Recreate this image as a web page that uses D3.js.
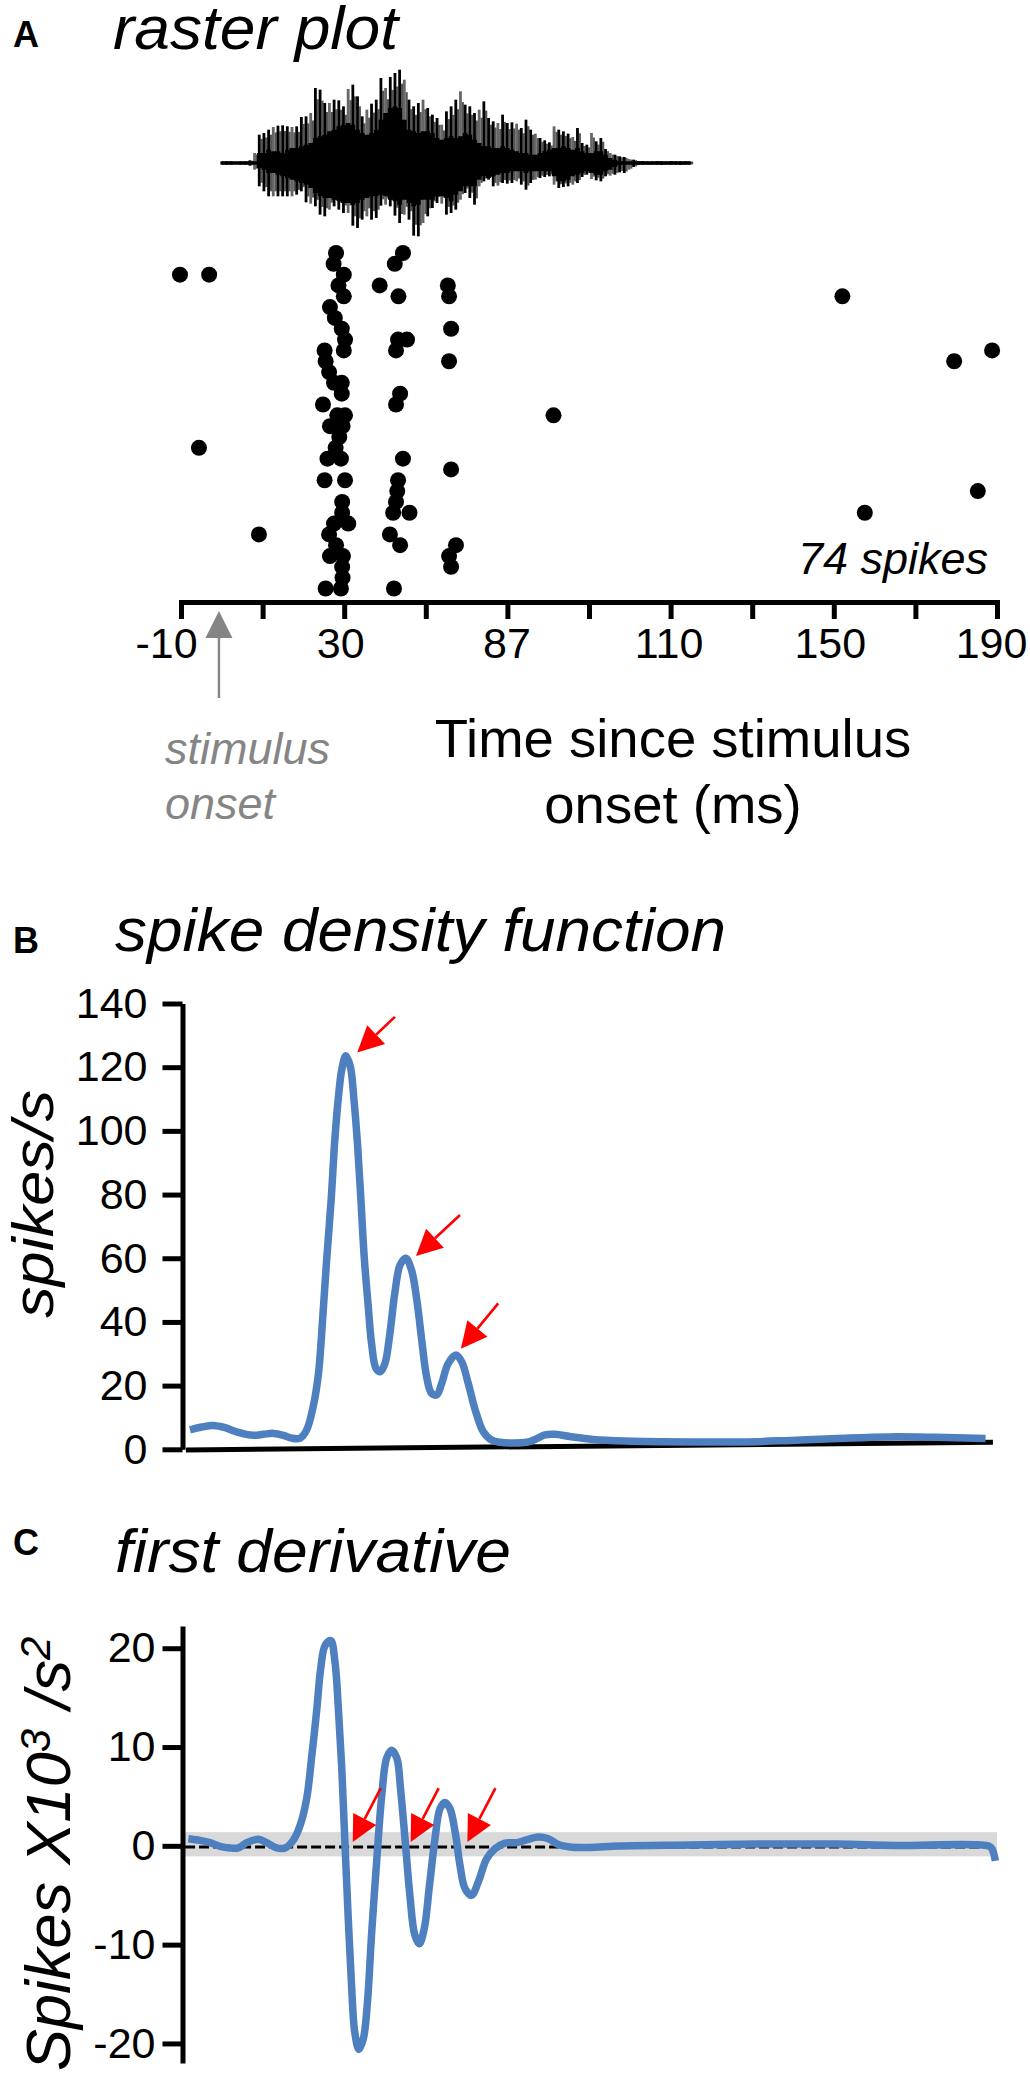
<!DOCTYPE html>
<html>
<head>
<meta charset="utf-8">
<title>raster plot</title>
<script src="https://d3js.org/d3.v7.min.js"></script>
<style>
	html, body { margin: 0; padding: 0; background: #fff; }
	svg { display: block; }
	text { font-family: "Liberation Sans", Arial, sans-serif; fill: #000; }
	.title { font-size: 62px; font-style: italic; }
	.letter { font-size: 36px; font-weight: bold; }
	.tick-label { font-size: 43px; }
</style>
</head>
<body>
<svg id="chart" width="1030" height="2076"></svg>
<script>
// x axis positions are every 20 ms, the printed labels are what the figure shows
const TICK_TIMES = [-10, 10, 30, 50, 70, 90, 110, 130, 150, 170, 190];
const TICK_LABELS = ['-10', '', '30', '', '87', '', '110', '', '150', '', '190'];

// one list of spike times (ms) per trial, top row first
const SPIKE_TRIALS = [
	[28.0, 44.4],
	[27.4, 42.4],
	[-10.25, -3.1, 29.9],
	[28.6, 38.7, 55.4],
	[29.9, 43.3, 55.7, 152.1],
	[26.5],
	[27.7],
	[29.4, 56.2],
	[30.2, 43.2, 45.4],
	[25.2, 29.9, 42.7, 188.8],
	[25.45, 55.7, 179.5],
	[26.3],
	[27.5, 29.4],
	[29.4, 43.7],
	[24.8, 42.7],
	[28.3, 30.2, 81.3],
	[26.5, 29.6],
	[28.8],
	[27.9, -5.6],
	[25.9, 29.2, 44.4],
	[56.2],
	[25.2, 30.2, 43.2],
	[43, 185.3],
	[29.5, 42.7],
	[29.5, 42, 46, 157.6],
	[27.5, 31],
	[9.1, 26.3, 41.2],
	[28, 43.7, 57.4],
	[26.5, 29.7, 55.7],
	[29.5, 56.2],
	[29.6],
	[25.45, 29.2, 42.2]
];

// sound waveform, read stroke by stroke: outer peaks and the solid dark core
const WAVE_UP = [5,5,5,4,5,5,8,30,85,90,100,108,112,113,110,108,110,138,140,150,225,220,180,180,190,188,170,222,235,200,140,160,178,190,255,225,258,270,280,250,190,170,180,190,165,145,135,115,155,170,190,215,175,170,150,160,185,135,125,120,145,120,122,118,105,130,100,88,75,68,62,110,100,95,88,78,105,60,55,90,65,75,42,30,25,20,18,12,10,6,6,5,5,6,5,5,6,5,5,6,5];
const WAVE_DOWN = [5,5,5,4,5,5,8,20,70,85,100,100,100,100,100,100,95,85,118,122,130,155,160,140,130,140,150,150,188,195,170,160,170,165,128,125,130,158,180,155,170,218,220,180,160,135,120,122,155,150,140,110,90,105,125,70,55,50,70,68,60,62,60,55,65,80,60,50,45,42,40,65,75,72,70,65,60,42,35,48,52,55,40,38,35,28,30,20,12,6,5,6,5,5,6,5,5,5,6,5,5];
const CORE_UP = [5,5,5,5,5,5,5,5,30,30,40,35,35,30,40,45,45,50,55,60,75,80,85,95,100,110,115,120,115,100,90,85,90,100,130,150,165,170,165,130,100,95,90,95,95,90,75,70,75,80,75,80,90,85,70,60,50,50,45,45,50,45,40,35,30,30,25,25,30,35,40,45,45,50,45,40,45,35,30,30,35,35,25,15,10,5,5,5,5,5,5,5,5,5,5,5,5,5,5,5,5];
const CORE_DOWN = [5,5,5,5,5,5,5,5,15,20,30,30,35,40,45,50,55,60,65,75,90,100,105,105,110,115,120,120,125,120,110,105,100,100,95,100,110,115,125,110,120,130,125,110,110,110,100,100,105,115,95,85,70,70,70,50,40,45,40,35,30,30,25,25,25,30,25,25,25,25,25,40,55,55,50,40,35,30,25,30,35,35,25,20,12,6,5,5,5,5,5,5,5,5,5,5,5,5,5,5,5];

// panel B
const DENSITY_TIMES = [-7.8,-4.9,-2.1,0.8,3.6,7.7,10.2,12.6,15.1,17.1,19.2,20.8,22.4,23.7,24.7,25.7,26.8,27.7,28.6,29.4,30.4,31.5,32.4,33.3,34.1,34.9,35.9,36.7,37.8,38.9,40,41.2,42.4,43.7,45.1,46.5,47.8,49,50.2,51.4,52.7,53.9,55.5,57.4,58.8,60.4,62.1,64.1,66.1,68.2,74.7,76.8,79.2,81.7,85.3,91,99,115,128,139.5,151,163.7,175,187.2];
const DENSITY_VALUES = [6.1,7,7.5,6.8,5.5,4.4,4.7,5,4.4,3.5,3.5,6.1,13.4,23.9,40.6,59.5,78.3,97.2,110.8,119.2,123.6,120.2,109.7,95.1,78.3,60.5,44.8,33.3,25.4,24.4,27,36.4,49,57.9,60,56.3,46.9,34.3,22.8,17.6,17.1,20.7,27,29.6,27.5,20.7,12.4,5.5,2.9,2.2,2.2,3.1,4.5,4.7,4,3.1,2.6,2.3,2.3,2.8,3.4,3.9,3.75,3.4];
const DENSITY_TICKS = [0, 20, 40, 60, 80, 100, 120, 140];
const DENSITY_ARROW_TIMES = [33.2, 47.6, 58.6];
const DENSITY_ARROW_VALUES = [124.6, 60.7, 31.6];

// panel C
const DERIV_TIMES = [-8.2,-5.35,-2.9,-0.45,2,4.05,6.1,8.95,11,13.45,15.5,17.5,19.2,20.8,22,23.25,24.25,25.3,26.7,27.75,28.6,29.4,30.2,31,31.8,32.6,33.6,34.7,35.7,36.7,38,39.2,40.4,41.6,42.9,43.8,44.9,46.1,47.3,48.4,49.6,50.9,52.25,53.5,54.7,55.9,57.2,58.4,59.6,61.2,62.9,64.9,67,69.4,72.3,75.1,77.6,80,82.5,85.3,90,97.5,115,131.4,150.8,165,188,188.8,189.6];
const DERIV_VALUES = [0.74,0.57,0.34,-0.03,-0.2,-0.2,0.34,0.68,0.34,-0.2,-0.2,0.57,2.1,4.8,8.9,13.7,18,20.3,20.8,18.6,13.7,7.9,0.07,-7.4,-14.1,-18.9,-20.6,-19.5,-15.8,-9,-1.3,5.1,8.9,9.7,8.9,5.8,0.74,-5,-9,-9.9,-8.4,-4,0.74,3.8,4.4,3.8,1.4,-2,-4.3,-5,-3.6,-1.3,-0.27,0.3,0.34,0.68,0.9,0.74,0.14,-0.1,-0.15,0,0.1,0.19,0.19,0.05,0,-0.3,-1.5];
const DERIV_TICKS = [-20, -10, 0, 10, 20];
const DERIV_ARROW_TIMES = [32.1, 46.3, 60.2];
const DERIV_BAND = [-1.05, 1.4];
const DERIV_ZERO = -0.1;

const BLUE = '#4e7fbe';
const RED = '#ff0000';
const GREY = '#858585';

const svg = d3.select('#chart');

// same time scale under all three panels
const x = d3.scaleLinear().domain([-10, 190]).range([181, 997]);

function addText(str, px, py, cls) {
	return svg.append('text').attr('x', px).attr('y', py).attr('class', cls).text(str);
}

function addTitle(str, px, py, len) {
	return addText(str, px, py, 'title')
		.attr('textLength', len)
		.attr('lengthAdjust', 'spacingAndGlyphs');
}

// red arrow given the tip and the tail offset, in pixels
function redArrow(tipX, tipY, dx, dy) {
	const len = Math.hypot(dx, dy);
	const ux = dx / len, uy = dy / len;
	const headLen = 26, headHalf = 13;
	const bx = tipX + ux * headLen, by = tipY + uy * headLen;
	svg.append('line')
		.attr('x1', bx).attr('y1', by)
		.attr('x2', tipX + dx).attr('y2', tipY + dy)
		.attr('stroke', RED).attr('stroke-width', 2.6);
	svg.append('path')
		.attr('d', d3.line()([
			[tipX, tipY],
			[bx - uy * headHalf, by + ux * headHalf],
			[bx + uy * headHalf, by - ux * headHalf]
		]) + 'Z')
		.attr('fill', RED);
}

function styleAxis(g, width) {
	g.selectAll('path').attr('stroke', '#000').attr('stroke-width', width);
	g.selectAll('line').attr('stroke', '#000').attr('stroke-width', width);
	g.selectAll('text').attr('class', 'tick-label').attr('fill', '#000');
}

// ---- A: raster plot ----
addText('A', 13, 47, 'letter');
addTitle('raster plot', 113, 49, 285);

const defs = svg.append('defs');
defs.append('filter').attr('id', 'soft')
	.attr('x', '-5%').attr('y', '-5%').attr('width', '110%').attr('height', '110%')
	.append('feGaussianBlur').attr('stdDeviation', 0.5);

const waveY = d3.scaleLinear().domain([-300, 300]).range([263, 63]);
const waveStep = 1.147; // ms between strokes
const waveG = svg.append('g').attr('filter', 'url(#soft)');

// paler strokes in the gaps, a bit shorter than their neighbour
waveG.selectAll('line.between')
	.data(WAVE_UP)
	.enter().append('line')
		.attr('class', 'between')
		.attr('x1', (d, i) => x((i + 0.5) * waveStep))
		.attr('x2', (d, i) => x((i + 0.5) * waveStep))
		.attr('y1', d => waveY(d * 0.85))
		.attr('y2', (d, i) => waveY(-WAVE_DOWN[i] * 0.85))
		.attr('stroke', '#555')
		.attr('stroke-width', 2.2);

waveG.selectAll('line.outer')
	.data(WAVE_UP)
	.enter().append('line')
		.attr('class', 'outer')
		.attr('x1', (d, i) => x(i * waveStep))
		.attr('x2', (d, i) => x(i * waveStep))
		.attr('y1', d => waveY(d))
		.attr('y2', (d, i) => waveY(-WAVE_DOWN[i]))
		.attr('stroke', (d, i) => i % 4 == 3 ? '#666' : '#000')
		.attr('stroke-width', 2.8);

waveG.append('path')
	.attr('d', d3.area()
		.x((d, i) => x(i * waveStep))
		.y0((d, i) => waveY(-CORE_DOWN[i]))
		.y1(d => waveY(d))
		.curve(d3.curveStep)(CORE_UP))
	.attr('fill', '#000');

const trialY = d3.scaleLinear().domain([0, SPIKE_TRIALS.length - 1]).range([253, 588.5]);
const spikes = SPIKE_TRIALS.flatMap((times, trial) => times.map(t => ({ t: t, trial: trial })));

svg.append('g')
	.selectAll('circle')
	.data(spikes)
	.enter().append('circle')
		.attr('cx', d => x(d.t))
		.attr('cy', d => trialY(d.trial))
		.attr('r', 8)
		.attr('fill', '#000');

const xAxis = svg.append('g')
	.attr('transform', 'translate(0,602)')
	.call(d3.axisBottom(x)
		.tickValues(TICK_TIMES)
		.tickFormat((d, i) => TICK_LABELS[i])
		.tickSize(17)
		.tickSizeOuter(17)
		.tickPadding(8));
styleAxis(xAxis, 5);
// labels sit a little left of their ticks in the figure
const labelShift = { '-10': -15, '30': -4, '87': -1, '110': -2, '150': -4, '190': -6 };
xAxis.selectAll('text').attr('dx', (d, i) => labelShift[TICK_LABELS[i]] || 0);

addText('74 spikes', 988, 574, '')
	.attr('text-anchor', 'end').attr('font-size', 45).attr('font-style', 'italic');

// stimulus onset marker
svg.append('line')
	.attr('x1', x(-0.7)).attr('x2', x(-0.7))
	.attr('y1', 630).attr('y2', 698)
	.attr('stroke', GREY).attr('stroke-width', 2.4);
svg.append('path')
	.attr('d', d3.line()([[x(-0.7), 611], [x(-0.7) - 13.5, 638], [x(-0.7) + 13.5, 638]]) + 'Z')
	.attr('fill', GREY);

addText('stimulus', 165, 764, '')
	.attr('font-size', 45).attr('font-style', 'italic').style('fill', GREY);
addText('onset', 165, 819, '')
	.attr('font-size', 45).attr('font-style', 'italic').style('fill', GREY);

addText('Time since stimulus', 673, 757, '')
	.attr('font-size', 54.5).attr('text-anchor', 'middle');
addText('onset (ms)', 673, 823, '')
	.attr('font-size', 54.5).attr('text-anchor', 'middle');

// ---- B: spike density function ----
addText('B', 13, 953, 'letter');
addTitle('spike density function', 115, 951, 611);

const yB = d3.scaleLinear().domain([0, 140]).range([1449.3, 1003.5]);

const yAxisB = svg.append('g')
	.attr('transform', 'translate(182.5,0)')
	.call(d3.axisLeft(yB)
		.tickValues(DENSITY_TICKS)
		.tickFormat(d => String(d))
		.tickSize(20)
		.tickSizeOuter(0)
		.tickPadding(15));
styleAxis(yAxisB, 5);

// the baseline leans slightly in the figure
svg.append('line')
	.attr('x1', x(-8.8)).attr('y1', yB(-0.2))
	.attr('x2', x(189)).attr('y2', yB(2.2))
	.attr('stroke', '#000').attr('stroke-width', 5);

svg.append('path')
	.attr('d', d3.line()
		.x(d => x(d))
		.y((d, i) => yB(DENSITY_VALUES[i]))
		.curve(d3.curveCatmullRom)(DENSITY_TIMES))
	.attr('fill', 'none')
	.attr('stroke', BLUE)
	.attr('stroke-width', 7.5);

const tailsB = [[37.7, -35.7], [44, -41], [37.3, -45.3]];
DENSITY_ARROW_TIMES.forEach((t, i) => {
	redArrow(x(t), yB(DENSITY_ARROW_VALUES[i]), tailsB[i][0], tailsB[i][1]);
});

svg.append('text')
	.attr('transform', 'translate(53,1204) rotate(-90)')
	.attr('text-anchor', 'middle')
	.attr('font-size', 58)
	.attr('font-style', 'italic')
	.attr('textLength', 228)
	.attr('lengthAdjust', 'spacingAndGlyphs')
	.text('spikes/s');

// ---- C: first derivative ----
addText('C', 13, 1555, 'letter');
addTitle('first derivative', 115, 1572, 396);

const yC = d3.scaleLinear().domain([-20, 20]).range([2043.5, 1648.5]);

svg.append('rect')
	.attr('x', x(-9))
	.attr('width', x(190) - x(-9))
	.attr('y', yC(DERIV_BAND[1]))
	.attr('height', yC(DERIV_BAND[0]) - yC(DERIV_BAND[1]))
	.attr('fill', '#d9d9d9');

svg.append('line')
	.attr('x1', x(-9)).attr('x2', x(189.5))
	.attr('y1', yC(DERIV_ZERO)).attr('y2', yC(DERIV_ZERO))
	.attr('stroke', '#000').attr('stroke-width', 3)
	.attr('stroke-dasharray', '10 4');

const yAxisC = svg.append('g')
	.attr('transform', 'translate(182.5,0)')
	.call(d3.axisLeft(yC.copy().domain([-21.98, 22.25]).range([2063, 1626]))
		.tickValues(DERIV_TICKS)
		.tickFormat(d => String(d))
		.tickSize(20)
		.tickSizeOuter(0)
		.tickPadding(7));
styleAxis(yAxisC, 5);

svg.append('path')
	.attr('d', d3.line()
		.x(d => x(d))
		.y((d, i) => yC(DERIV_VALUES[i]))
		.curve(d3.curveCatmullRom)(DERIV_TIMES))
	.attr('fill', 'none')
	.attr('stroke', BLUE)
	.attr('stroke-width', 7.5);

DERIV_ARROW_TIMES.forEach(t => {
	redArrow(x(t), yC(0.4), 28, -54);
});

const labelC = svg.append('text')
	.attr('transform', 'translate(70,2071) rotate(-90)')
	.attr('font-size', 63)
	.attr('font-style', 'italic');
labelC.append('tspan').text('Spikes X10');
labelC.append('tspan').attr('font-size', 42).attr('dy', -20).text('3');
labelC.append('tspan').attr('dy', 20).attr('dx', 20).text('/s');
labelC.append('tspan').attr('font-size', 42).attr('dy', -20).text('2');
</script>
</body>
</html>
